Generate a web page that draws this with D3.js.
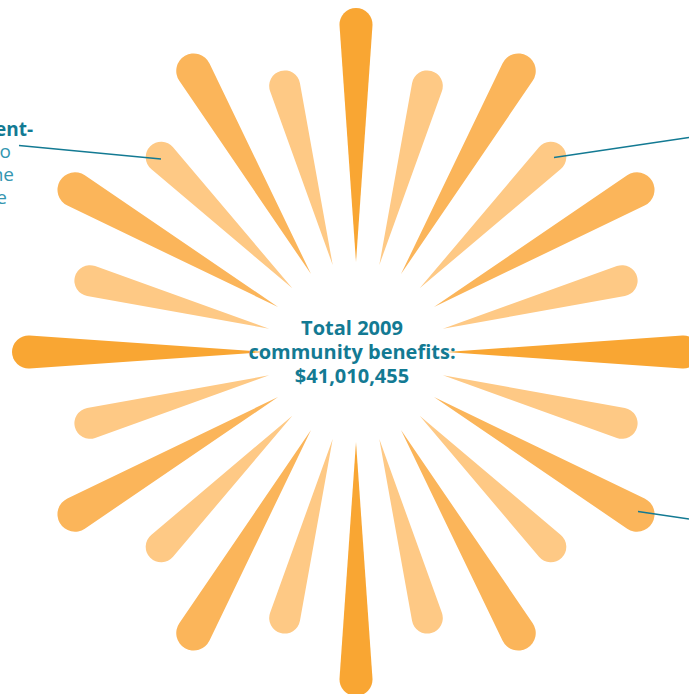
<!DOCTYPE html>
<html><head><meta charset="utf-8">
<script src="https://cdn.jsdelivr.net/npm/d3@7"></script>
<style>html,body{margin:0;padding:0;background:#fff;overflow:hidden}</style>
</head><body>
<script>
// ---- data ----
const petalAngles = [0,15,30,45,60,75,90,105,120,135,150,165,180,195,210,225,240,255,270,285,300,315,330,345];
const petalTypes  = ["dark","light","medium","light","medium","light","dark","light","medium","light","medium","light",
                     "dark","light","medium","light","medium","light","dark","light","medium","light","medium","light"];
const petalLengths = [344,291,342,291,342,291,344,291,342,291,342,291,344,291,342,291,342,291,344,291,342,291,342,291];
const centerLines = ["Total 2009", "community benefits:", "$41,010,455"];
const leftBold = ["Government-"];
const leftLines = ["sponsored programs to", "provide care for everyone", "in the state of Maine"];

const W = 689, H = 694;
const cx = 356, cy = 352;
const colors = {dark:"#F9A633", medium:"#FBB55A", light:"#FEC985"};
const widths = {dark:33, medium:35, light:31};
const innerR = 90;

const svg = d3.select("body").append("svg").attr("width", W).attr("height", H);
const r = d3.scaleLinear().domain([0, 344]).range([0, 344]);
const g = svg.append("g").attr("transform", `translate(${cx},${cy})`);

function petalPath(len, w) {
  const R = w / 2;
  const d = r(len) - R - innerR;
  const a = Math.asin(Math.min(0.99, R / d));
  const Cx = innerR + d;
  const t1 = [Cx - R * Math.sin(a),  R * Math.cos(a)];
  const t2 = [Cx - R * Math.sin(a), -R * Math.cos(a)];
  return `M${innerR},0L${t1[0]},${t1[1]}A${R},${R} 0 1 0 ${t2[0]},${t2[1]}Z`;
}

const petals = petalAngles.map((a, i) => ({angle: a, type: petalTypes[i], len: petalLengths[i]}));
g.selectAll("path.petal").data(petals).enter().append("path")
  .attr("class", "petal")
  .attr("d", d => petalPath(d.len, widths[d.type]))
  .attr("fill", d => colors[d.type])
  .attr("transform", d => `rotate(${d.angle - 90})`);

// center text
const ct = svg.append("text").attr("text-anchor", "middle")
  .attr("font-family", "'Open Sans', sans-serif").attr("font-weight", "bold")
  .attr("font-size", 20).attr("fill", "#137A93");
centerLines.forEach((t, i) => {
  ct.append("tspan").attr("x", 352).attr("y", 334.5 + i * 24).text(t);
});

// left annotation (clipped at left edge, as in the reference)
const lt = svg.append("text").attr("text-anchor", "end")
  .attr("font-family", "'Open Sans', sans-serif").attr("font-size", 19);
lt.append("tspan").attr("x", 33).attr("y", 136).attr("font-weight", "bold").attr("fill", "#137A93").text(leftBold[0]);
const leftEnds = [11, 14, 7];
leftLines.forEach((t, i) => {
  lt.append("tspan").attr("x", leftEnds[i]).attr("y", 158 + i * 23).attr("fill", "#3496B0").text(t);
});

// leader lines
const leaders = [
  [[19,145.5],[161,159]],
  [[554,157.5],[689,137.5]],
  [[638,511.5],[689,519]]
];
svg.selectAll("line.leader").data(leaders).enter().append("line")
  .attr("x1", d => d[0][0]).attr("y1", d => d[0][1])
  .attr("x2", d => d[1][0]).attr("y2", d => d[1][1])
  .attr("stroke", "#137A93").attr("stroke-width", 1.3);
</script>
</body></html>
